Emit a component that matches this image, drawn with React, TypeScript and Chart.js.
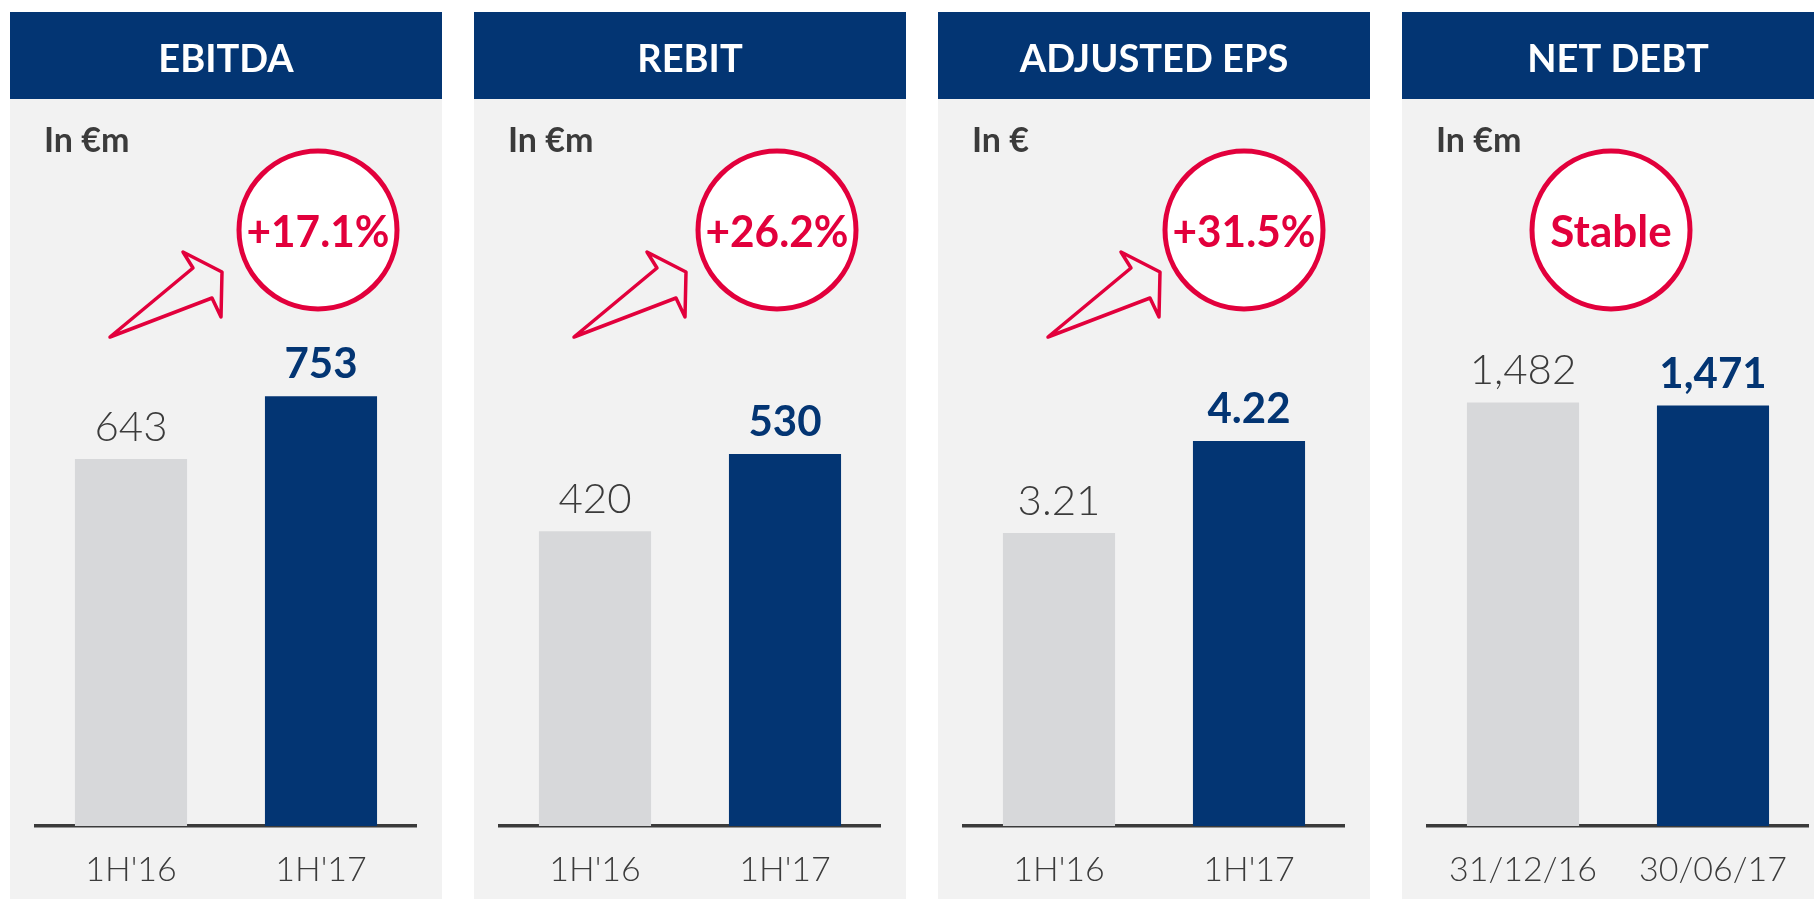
import React, { useEffect, useRef } from 'react';
import { Chart, registerables } from 'chart.js';

Chart.register(...registerables);

// ---- Data ----
const TITLES = ['EBITDA', 'REBIT', 'ADJUSTED EPS', 'NET DEBT'];
const UNITS = ['In €m', 'In €m', 'In €', 'In €m'];
const PERIOD_LABELS = ["1H'16", "1H'17"];
const DEBT_LABELS = ['31/12/16', '30/06/17'];
const EBITDA_VALUES = [643, 753];
const REBIT_VALUES = [420, 530];
const EPS_VALUES = [3.21, 4.22];
const NET_DEBT_VALUES = [1482, 1471];
const CHANGES = ['+17.1%', '+26.2%', '+31.5%', 'Stable'];
const DECIMALS = [0, 0, 2, 0];
const AXIS_MAX = [1426, 1160, 8.92, 2848];

const SERIES = [EBITDA_VALUES, REBIT_VALUES, EPS_VALUES, NET_DEBT_VALUES];
const CATEGORIES = [PERIOD_LABELS, PERIOD_LABELS, PERIOD_LABELS, DEBT_LABELS];

// ---- Layout / style ----
const PANEL_W = 432;
const PANEL_H = 887;
const PANEL_TOP = 12;
const PANEL_LEFT = [10, 474, 938, 1402];
const HEADER_H = 87;
const CIRCLE_X = [308, 303, 306, 209];
const CIRCLE_Y = 218;
const ARROW_X = [100, 100, 110, -1];
const ARROW_Y = 325;
const ARROW_SHAPE = [[0, 0], [83, -69], [73, -85], [112, -65], [111, -20], [102, -39]];

const NAVY = '#033573';
const BG = '#f2f2f2';
const GREY_BAR = '#d7d8da';
const RED = '#e2003c';
const DARK = '#3b3b3b';
const FONT = 'Lato, "Open Sans", sans-serif';

function fmt(v: number, d: number) {
  return v.toLocaleString('en-US', { minimumFractionDigits: d, maximumFractionDigits: d });
}

function makePlugin(i: number) {
  return {
    id: 'decor' + i,
    beforeDraw(chart: any) {
      const ctx = chart.ctx;
      ctx.save();
      ctx.fillStyle = BG;
      ctx.fillRect(0, HEADER_H, PANEL_W, PANEL_H - HEADER_H);
      ctx.fillStyle = NAVY;
      ctx.fillRect(0, 0, PANEL_W, HEADER_H);
      ctx.fillStyle = '#ffffff';
      ctx.font = `bold 38px ${FONT}`;
      ctx.textAlign = 'center';
      ctx.textBaseline = 'alphabetic';
      ctx.fillText(TITLES[i], PANEL_W / 2, 60);
      ctx.fillStyle = DARK;
      ctx.font = `bold 34px ${FONT}`;
      ctx.textAlign = 'left';
      ctx.fillText(UNITS[i], 34, 140);
      ctx.restore();
    },
    afterDatasetsDraw(chart: any) {
      const ctx = chart.ctx;
      const meta = chart.getDatasetMeta(0);
      const values = SERIES[i];
      ctx.save();
      ctx.textAlign = 'center';
      ctx.textBaseline = 'alphabetic';
      meta.data.forEach((bar: any, j: number) => {
        ctx.font = j === 0 ? `300 42px ${FONT}` : `bold 42px ${FONT}`;
        ctx.fillStyle = j === 0 ? DARK : NAVY;
        ctx.fillText(fmt(values[j], DECIMALS[i]), bar.x, bar.y - 18);
      });
      ctx.restore();
    },
    afterDraw(chart: any) {
      const ctx = chart.ctx;
      ctx.save();
      // arrow
      if (ARROW_X[i] >= 0) {
        ctx.beginPath();
        ARROW_SHAPE.forEach(([dx, dy], k) => {
          const x = ARROW_X[i] + dx;
          const y = ARROW_Y + dy;
          if (k === 0) ctx.moveTo(x, y);
          else ctx.lineTo(x, y);
        });
        ctx.closePath();
        ctx.strokeStyle = RED;
        ctx.lineWidth = 3.5;
        ctx.lineJoin = 'round';
        ctx.stroke();
      }
      // circle
      ctx.beginPath();
      ctx.arc(CIRCLE_X[i], CIRCLE_Y, 79, 0, Math.PI * 2);
      ctx.fillStyle = '#ffffff';
      ctx.fill();
      ctx.lineWidth = 5;
      ctx.strokeStyle = RED;
      ctx.stroke();
      ctx.fillStyle = RED;
      ctx.font = `bold 44px ${FONT}`;
      ctx.textAlign = 'center';
      ctx.textBaseline = 'alphabetic';
      ctx.fillText(CHANGES[i], CIRCLE_X[i], 235, 143);
      ctx.restore();
    },
  };
}

function Panel({ index }: { index: number }) {
  const ref = useRef<HTMLCanvasElement>(null);
  useEffect(() => {
    if (!ref.current) return;
    const chart = new Chart(ref.current, {
      type: 'bar',
      data: {
        labels: CATEGORIES[index],
        datasets: [
          {
            data: SERIES[index],
            backgroundColor: [GREY_BAR, NAVY],
            borderWidth: 0,
            categoryPercentage: 1,
            barPercentage: 0.59,
          },
        ],
      },
      options: {
        animation: false,
        responsive: false,
        maintainAspectRatio: false,
        layout: { padding: { left: 26, right: 26, top: 0, bottom: 0 } },
        plugins: { legend: { display: false }, tooltip: { enabled: false } },
        scales: {
          x: {
            grid: { display: false, drawTicks: false },
            border: { display: true, color: DARK, width: 3.5 },
            ticks: {
              color: DARK,
              font: { family: FONT, size: 34, weight: '300' },
              padding: 24,
            },
            afterFit: (s: any) => {
              s.height = 73;
            },
          },
          y: { display: false, min: 0, max: AXIS_MAX[index] },
        },
      },
      plugins: [makePlugin(index)],
    } as any);
    return () => chart.destroy();
  }, [index]);
  return (
    <canvas
      ref={ref}
      width={PANEL_W}
      height={PANEL_H}
      style={{ position: 'absolute', left: PANEL_LEFT[index], top: PANEL_TOP, width: PANEL_W, height: PANEL_H }}
    />
  );
}

export default function App() {
  return (
    <div
      style={{
        position: 'fixed',
        left: 0,
        top: 0,
        width: 1814,
        height: 899,
        overflow: 'hidden',
        background: '#ffffff',
      }}
    >
      {TITLES.map((_, i) => (
        <Panel key={i} index={i} />
      ))}
    </div>
  );
}
